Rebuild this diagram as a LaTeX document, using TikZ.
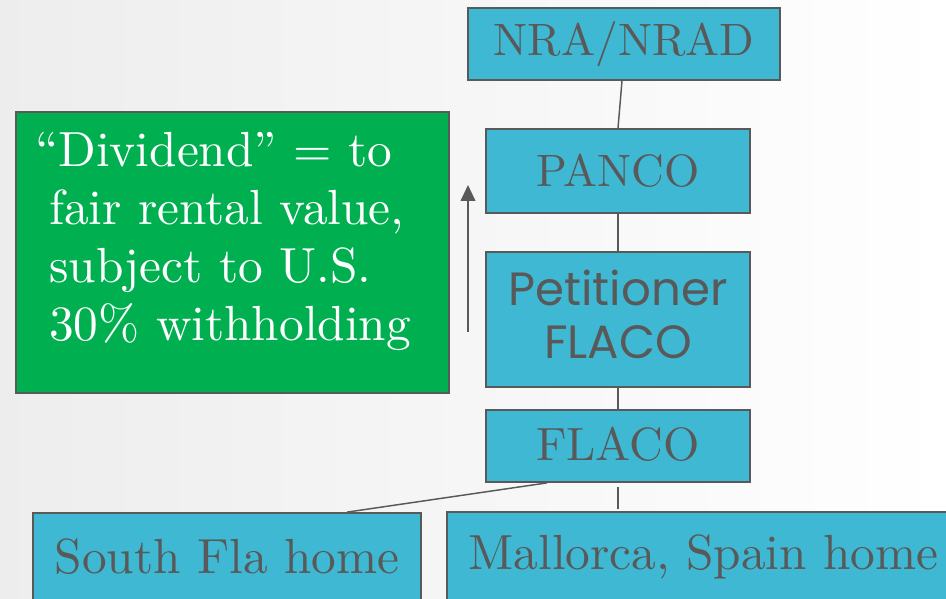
\documentclass[tikz,border=0pt]{standalone}
\usepackage{fontspec}
\usepackage{xcolor}
\usepackage{tikz}
\usetikzlibrary{shapes, arrows.meta, positioning}
\setmainfont{lmroman10-regular.otf}[ItalicFont=lmroman10-italic.otf, BoldFont=lmroman10-bold.otf]
\newfontfamily\petfont{Poppins}
\definecolor{txtgray}{HTML}{595959}
\definecolor{boxblue}{HTML}{3FB8D3}
\definecolor{boxgreen}{HTML}{00B050}
\tikzset{
  entity/.style={draw=txtgray, line width=1.3pt, rectangle, fill=boxblue, text=txtgray,
    font=\fontsize{34}{40}\selectfont, inner sep=0pt},
  link/.style={draw=txtgray, line width=1.1pt}
}

\begin{document}
\begin{tikzpicture}[x=0.75pt, y=-0.75pt]
  \shade[left color=gray!14, right color=white] (0,0) rectangle (946,599);
  \useasboundingbox (0,0) rectangle (946,599);

  \node[entity, minimum width=234pt, minimum height=54pt] (nra) at (624,44) {NRA/NRAD\rule[-3pt]{0pt}{0pt}};
  \node[entity, minimum width=198pt, minimum height=63pt] (panco) at (618,171) {PANCO};
  \node[entity, minimum width=198pt, minimum height=101.25pt, align=center,
        font=\petfont\fontsize{35}{40}\selectfont] (petitioner) at (618,319.5) {Petitioner\\FLACO\rule[-8pt]{0pt}{0pt}};
  \node[entity, minimum width=198pt, minimum height=54pt,
        font=\fontsize{35}{40}\selectfont] (flaco) at (618,446) {FLACO\rule[-4pt]{0pt}{0pt}};
  \node[entity, minimum width=291pt, minimum height=66pt,
        font=\fontsize{37}{40}\selectfont] (southfla) at (227,557) {South Fla home};
  \node[entity, minimum width=384.75pt, minimum height=66.75pt,
        font=\fontsize{37}{40}\selectfont] (mallorca) at (703.5,556.5) {Mallorca, Spain home};

  \node[draw=txtgray, line width=1.3pt, rectangle, fill=boxgreen, text=white,
        minimum width=324.75pt, minimum height=210.75pt, text width=296pt, inner xsep=14.25pt,
        align=left, font=\fontsize{37}{43.5}\selectfont] (dividend) at (232.5,252.5) {
    ``Dividend'' = to\\
    \hspace{10.5pt}fair rental value,\\
    \hspace{10.5pt}subject to U.S.\\
    \hspace{10.5pt}30\% withholding\rule[-24pt]{0pt}{0pt}
  };

  \coordinate (flowstart) at (468,332);
  \coordinate (flowend) at (468,185);
  \draw[link, line width=1.5pt, -{Triangle[length=12pt, width=11pt]}] (flowstart) -- (flowend);

  \draw[link] ([xshift=-1.5pt]nra.south) -- (panco.north);
  \draw[link] (panco.south) -- (petitioner.north);
  \draw[link] (petitioner.south) -- (flaco.north);
  \draw[link] ([xshift=46.5pt]flaco.south west) -- ([xshift=90pt]southfla.north);
  \draw[link] ([yshift=-3pt]flaco.south) -- ([yshift=1.5pt]flaco.south |- mallorca.north);
\end{tikzpicture}
\end{document}
